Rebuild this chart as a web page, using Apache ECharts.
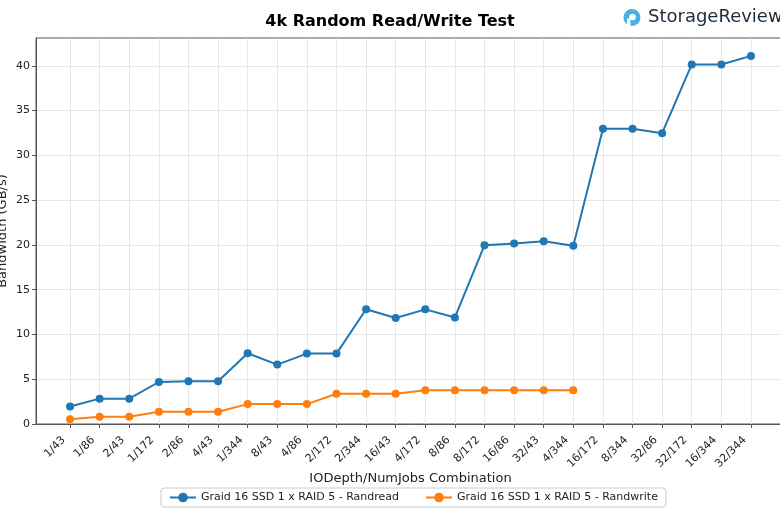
<!DOCTYPE html>
<html><head><meta charset="utf-8">
<script src="https://cdn.jsdelivr.net/npm/echarts@6/dist/echarts.min.js"></script>
<style>html,body{margin:0;padding:0;background:#fff}#c{width:780px;height:516px}</style>
</head><body><div id="c"></div>
<script>
const categories = ['1/43','1/86','2/43','1/172','2/86','4/43','1/344','8/43','4/86','2/172','2/344','16/43','4/172','8/86','8/172','16/86','32/43','4/344','16/172','8/344','32/86','32/172','16/344','32/344'];
const randread = [1.95,2.83,2.83,4.69,4.77,4.77,7.9,6.63,7.86,7.86,12.81,11.84,12.8,11.9,19.96,20.15,20.4,19.9,32.96,32.96,32.47,40.15,40.15,41.1];
const randwrite = [0.54,0.82,0.82,1.37,1.37,1.37,2.22,2.22,2.22,3.37,3.37,3.37,3.76,3.76,3.76,3.78,3.78,3.78];
const yTicks = [0,5,10,15,20,25,30,35,40];
const seriesNames = ['Graid 16 SSD 1 x RAID 5 - Randread','Graid 16 SSD 1 x RAID 5 - Randwrite'];

const idx = categories.map((c, i) => i);
const font = 'DejaVu Sans';
const chart = echarts.init(document.getElementById('c'), null, {renderer: 'canvas'});
chart.setOption({
  animation: false,
  backgroundColor: '#fff',
  textStyle: {fontFamily: font},
  title: {
    text: '4k Random Read/Write Test', left: 'center', top: 9,
    textStyle: {fontSize: 16, fontWeight: 'bold', color: '#000', fontFamily: font}
  },
  graphic: [
    {type: 'circle', shape: {cx: 632, cy: 17.5, r: 8.5}, style: {fill: '#45b0e5'}},
    {type: 'circle', shape: {cx: 632.5, cy: 17, r: 3.3}, style: {fill: '#fff'}},
    {type: 'rect', shape: {x: 627, y: 18.5, width: 3.5, height: 8}, style: {fill: '#fff'}},
    {type: 'text', x: 648, y: 17.5, style: {text: 'StorageReview', fontSize: 18, fill: '#1d2b3a',
      fontFamily: font, verticalAlign: 'middle'}}
  ],
  grid: {left: 36, right: -5, top: 38, bottom: 92, show: true, borderColor: '#555', borderWidth: 1,
    containLabel: false, outerBoundsMode: 'none'},
  legend: {
    data: seriesNames, left: 161, top: 488,
    itemWidth: 26, itemHeight: 12, itemGap: 26,
    padding: [4, 8], borderColor: '#ccc', borderWidth: 1, borderRadius: 3,
    textStyle: {fontSize: 11, color: '#222', fontFamily: font}
  },
  xAxis: {
    type: 'value', min: -1.15, max: categories.length - 1 + 1.15,
    name: 'IODepth/NumJobs Combination', nameLocation: 'middle', nameGap: 48, nameMoveOverlap: false,
    nameTextStyle: {fontSize: 13, color: '#222', fontFamily: font},
    axisLine: {show: true, onZero: false, lineStyle: {color: '#555'}},
    axisTick: {show: true, length: 4, customValues: idx, lineStyle: {color: '#555'}},
    axisLabel: {customValues: idx, rotate: 45, fontSize: 11, color: '#222', margin: 8,
      padding: [0, 9, 0, 0],
      formatter: v => categories[Math.round(v)]},
    splitLine: {show: true, lineStyle: {color: '#e6e6e6', width: 1}}
  },
  yAxis: {
    type: 'value', min: 0, max: 43.1,
    name: 'Bandwidth (GB/s)', nameLocation: 'middle', nameGap: 27, nameMoveOverlap: false,
    nameTextStyle: {fontSize: 13, color: '#222', fontFamily: font},
    axisLine: {show: true, onZero: false, lineStyle: {color: '#555'}},
    axisTick: {show: true, length: 4, customValues: yTicks, lineStyle: {color: '#555'}},
    axisLabel: {customValues: yTicks, fontSize: 11, color: '#222', margin: 6},
    splitLine: {show: true, lineStyle: {color: '#e6e6e6', width: 1}}
  },
  series: [
    {name: seriesNames[0], type: 'line', data: randread.map((v, i) => [i, v]),
     symbol: 'circle', symbolSize: 8, color: '#1f77b4', lineStyle: {width: 2}},
    {name: seriesNames[1], type: 'line', data: randwrite.map((v, i) => [i, v]),
     symbol: 'circle', symbolSize: 8, color: '#ff7f0e', lineStyle: {width: 2}}
  ]
});
</script></body></html>
